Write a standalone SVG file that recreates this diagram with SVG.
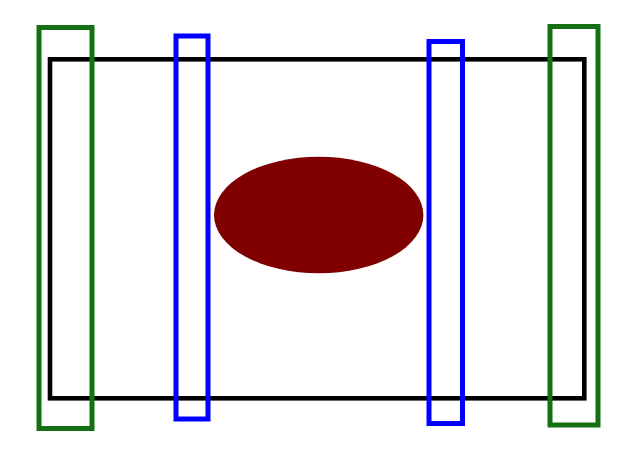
<svg xmlns="http://www.w3.org/2000/svg" width="641" height="460" viewBox="0 0 641 460">
<style>
.frame{fill:none;stroke:#000;stroke-width:4.6}
.green{fill:none;stroke:#157015;stroke-width:5}
.blue{fill:none;stroke:#0000ff;stroke-width:5}
</style>
<rect width="641" height="460" fill="#fff"/>
<g id="frame"><rect class="frame" x="50" y="59.3" width="534.3" height="339"/></g>
<g id="core"><ellipse cx="318.7" cy="215" rx="104.7" ry="58.3" fill="#800000"/></g>
<g id="green-left"><rect class="green" x="39" y="27.5" width="53" height="401"/></g>
<g id="green-right"><rect class="green" x="550" y="26.5" width="48" height="398.5"/></g>
<g id="blue-left"><rect class="blue" x="176" y="36" width="32" height="383"/></g>
<g id="blue-right"><rect class="blue" x="429" y="41.5" width="33.5" height="382"/></g>
<g id="connectors"></g>
</svg>
